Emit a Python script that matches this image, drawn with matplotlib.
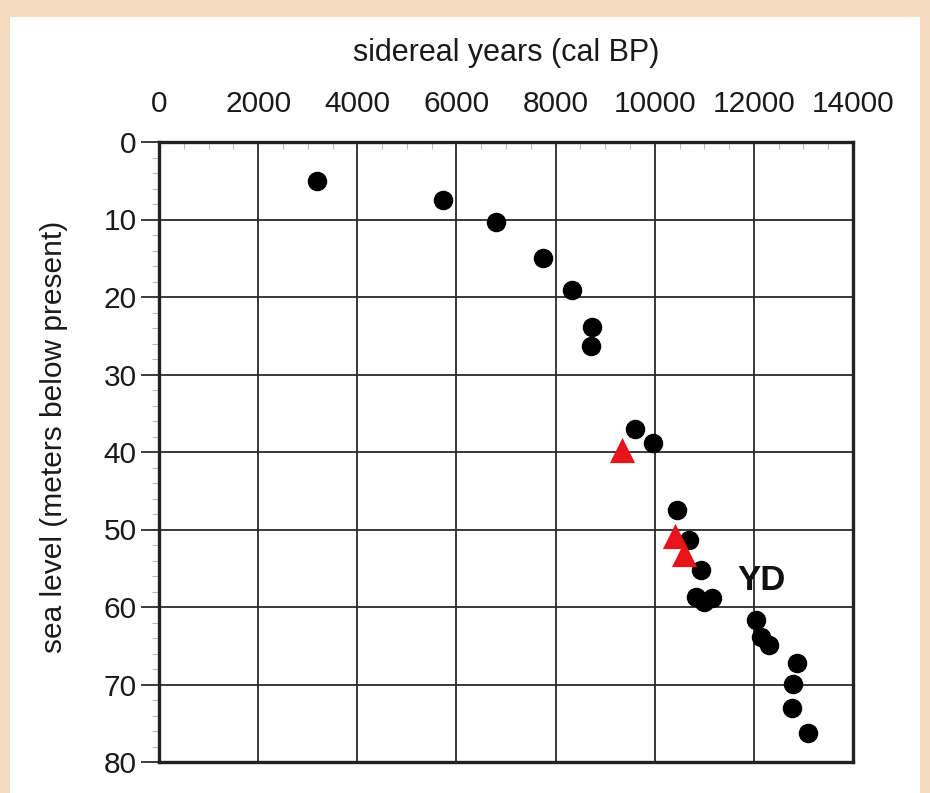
import numpy as np
import matplotlib.pyplot as plt
from matplotlib.patches import Rectangle
from matplotlib.ticker import MultipleLocator

plt.rcParams['font.family'] = ['Liberation Sans', 'DejaVu Sans']

# Coral reef sea level points (black dots)
dot_years = [3180, 5720, 6790, 7750, 8340, 8740, 8720, 9610, 9970, 10450,
             10690, 10940, 10840, 11000, 11160, 12040, 12140, 12300, 12870,
             12790, 12770, 13090]
dot_depth = [5.0, 7.5, 10.3, 15.0, 19.1, 23.9, 26.3, 37.0, 38.8, 47.5,
             51.4, 55.2, 58.7, 59.4, 58.8, 61.7, 63.9, 64.9, 67.2,
             69.9, 73.0, 76.3]

# red triangles
tri_years = [9340, 10410, 10590]
tri_depth = [39.7, 50.8, 53.2]

xticks = [0, 2000, 4000, 6000, 8000, 10000, 12000, 14000]
yticks = [0, 10, 20, 30, 40, 50, 60, 70, 80]

W, H = 930, 793
fig = plt.figure(figsize=(W / 100, H / 100), dpi=100)
fig.patch.set_facecolor('#f4dcc0')
fig.patches.append(Rectangle((10 / W, 0), 910 / W, (H - 17) / H,
                             transform=fig.transFigure, facecolor='white',
                             edgecolor='none', zorder=-5))

ax = fig.add_axes([159 / W, (H - 762) / H, 694 / W, 620 / H])
ax.set_zorder(2)
ax.set_facecolor('white')
ax.set_xlim(0, 14000)
ax.set_ylim(80, 0)

ax.set_xticks(xticks)
ax.set_yticks(yticks)
ax.xaxis.tick_top()
ax.xaxis.set_label_position('top')
ax.tick_params(axis='x', length=0, pad=17.5, labelsize=21.5, colors='#1a1a1a')
ax.tick_params(axis='y', length=13, width=1.2, pad=3, labelsize=21.5,
               colors='#1a1a1a', direction='out')
ax.yaxis.set_minor_locator(MultipleLocator(2))
ax.tick_params(axis='y', which='minor', length=5, width=0.8, color='#bbbbbb')
ax.xaxis.set_minor_locator(MultipleLocator(500))
ax.tick_params(axis='x', which='minor', length=5, width=0.8, color='#bbbbbb',
               direction='in')

ax.grid(True, which='major', color='#2a2a2a', linewidth=1.3)
ax.set_axisbelow(True)
for s in ax.spines.values():
    s.set_linewidth(2.4)
    s.set_color('#222222')

ax.set_xlabel('sidereal years (cal BP)', fontsize=22, labelpad=21,
              color='#1a1a1a')
ax.set_ylabel('sea level (meters below present)', fontsize=21.5,
              color='#1a1a1a')
ax.yaxis.set_label_coords(-0.131, 0.525)

ax.scatter(dot_years, dot_depth, s=170, color='black', zorder=3,
           clip_on=False)
ax.scatter(tri_years, tri_depth, s=330, marker='^', color='#e8141c',
           zorder=4, clip_on=False, linewidths=0)

ax.text(12150, 56.6, 'YD', fontsize=25, fontweight='bold', ha='center',
        va='center', color='#111111', zorder=5)

fig.savefig('out.png', dpi=100, facecolor=fig.get_facecolor())
